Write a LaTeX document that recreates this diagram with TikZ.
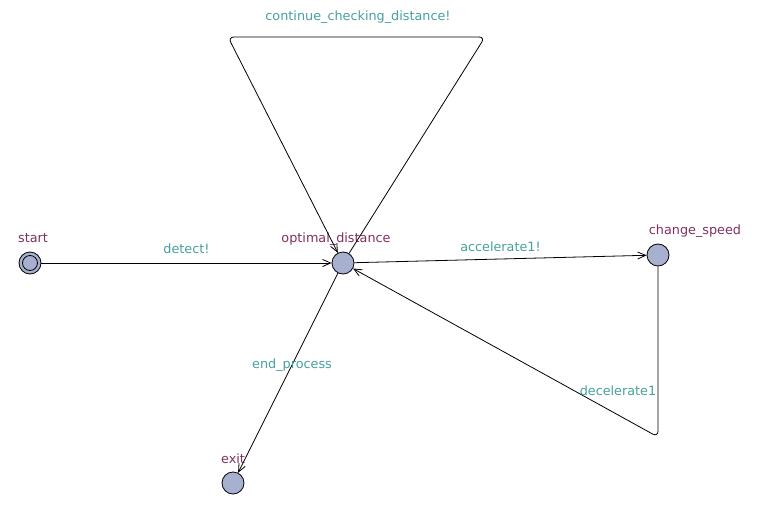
\documentclass[tikz,border=0pt]{standalone}
\usepackage{fontspec}
\setmainfont{DejaVu Sans}
\usetikzlibrary{positioning,arrows.meta}

\definecolor{stateFill}{RGB}{168,176,208}
\definecolor{syncTeal}{RGB}{70,160,160}
\definecolor{nameMauve}{RGB}{128,48,96}

\begin{document}
\begin{tikzpicture}[
        x=1pt, y=-1pt,
        >={Straight Barb[length=8pt,width=7pt]},
        state/.style={
            circle, draw = black, fill = stateFill, line width = 0.8pt, minimum size = 22pt, inner sep = 0pt
        },
        stateName/.style={
            color = nameMauve, font = \fontsize{12.8}{14}\selectfont, inner sep = 0pt
        },
        sync/.style={
            color = syncTeal, font = \fontsize{12.8}{14}\selectfont, inner sep = 0pt
        },
        trans/.style={
            line width = 0.8pt, draw = black, rounded corners = 6pt
        },
    ]
    \useasboundingbox (0,0) rectangle (769,514);

    \node (start) [state] at (30,263) {};
    \node (startInner) [state, minimum size = 15pt] at (start) {};
    \node (startName) [stateName] at (33,238) {start};

    \node (optimalDistance) [state] at (343,263) {};
    \node (optimalDistanceName) [stateName] at (336,239) {optimal\_distance};

    \node (changeSpeed) [state] at (658,255) {};
    \node (changeSpeedName) [stateName] at (695,231) {change\_speed};

    \node (exit) [state] at (233,483) {};
    \node (exitName) [stateName] at (233,459) {exit};

    \path (start) edge[trans,->] node[sync,pos=0.5,above=9pt] {detect!} (optimalDistance);

    \coordinate (loopRight) at (485,37);
    \coordinate (loopLeft) at (228,37);
    \draw[trans,->] (optimalDistance) -- (loopRight) -- (loopLeft) -- (optimalDistance);
    \node (continueLabel) [sync] at (358,17) {continue\_checking\_distance!};

    \path (optimalDistance) edge[trans,->] node[sync,pos=0.5,above=7pt] {accelerate1!} (changeSpeed);

    \coordinate (decelCorner) at (658,437);
    \draw[trans,->] (changeSpeed) -- (decelCorner) -- (optimalDistance);
    \node (decelerateLabel) [sync] at (618,391) {decelerate1};

    \path (optimalDistance) edge[trans,->] (exit);
    \node (endProcessLabel) [sync] at (292,365) {end\_process};

\end{tikzpicture}
\end{document}
